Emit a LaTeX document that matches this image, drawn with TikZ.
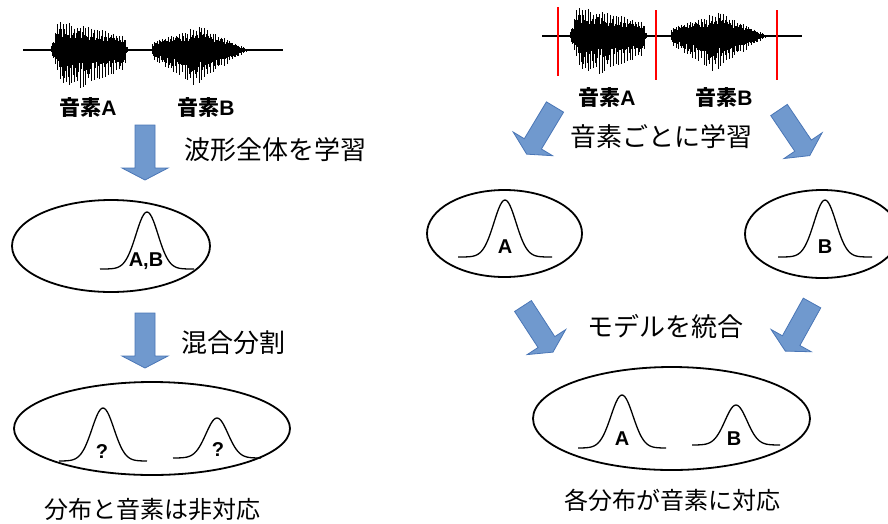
\documentclass[tikz,border=0pt]{standalone}
\usepackage{fontspec}
\newfontfamily\jp{Noto Sans CJK JP}
\newfontfamily\lat{Liberation Sans}
\definecolor{arrfill}{RGB}{112,153,206}
\definecolor{arrdraw}{RGB}{74,118,182}
\tikzset{
  blockarr/.style={fill=arrfill, draw=arrdraw, line width=0.8pt, line join=miter},
  pics/blockarrow/.style={code={\path[blockarr] (0,-10)--(43,-10)--(43,-23)--(55,0)--(43,23)--(43,10)--(0,10)--cycle;}},
  ell/.style={draw=black, line width=1.8pt},
  bellline/.style={draw=black, line width=1.3pt},
  jpbig/.style={inner sep=0pt, font=\jp\fontsize{26}{30}\selectfont},
  jpmid/.style={inner sep=0pt, font=\jp\fontsize{24}{28}\selectfont},
  wavelabel/.style={inner sep=0pt, font=\fontsize{21}{24}\selectfont\bfseries},
  curvelabel/.style={inner sep=0pt, font=\lat\bfseries\fontsize{20}{22}\selectfont},
  segline/.style={draw=red, line width=1.5pt}
}
\newcommand\bellcurve[4]{\draw[bellline] plot[domain=-#4:#4,samples=61,smooth] ({#1+\x},{#2-#3*exp(-0.5*(\x/11)^2)});}
\newcommand\speechwave{%
  \pgfmathsetseed{42}%
  \draw[line width=1.2pt] (0,0) -- (260,0);
  \foreach \u [count=\i] in {0,0.7,...,77}{%
    \pgfmathsetmacro\ft{mod(\i,4)==0 ? 0.8+0.2*rnd : 0.4+0.35*rnd}%
    \pgfmathsetmacro\fb{mod(\i,4)==0 ? 0.75+0.25*rnd : 0.3+0.4*rnd}%
    \pgfmathsetmacro\tp{28*min(1,\u/7)*(1-0.45*max(0,\u-15)/62)*min(1,(78-\u)/4)*\ft}%
    \pgfmathsetmacro\bt{41*min(1,\u/12)*(1-0.5*max(0,\u-22)/55)*min(1,(78-\u)/4)*\fb}%
    \draw[line width=0.8pt] (27+\u,-\tp) -- (27+\u,\bt);
  }
  \foreach \u [count=\i] in {0,0.7,...,96}{%
    \pgfmathsetmacro\ft{mod(\i,4)==0 ? 0.8+0.2*rnd : 0.45+0.35*rnd}%
    \pgfmathsetmacro\fb{mod(\i,4)==0 ? 0.75+0.25*rnd : 0.35+0.4*rnd}%
    \pgfmathsetmacro\tp{(\u<48 ? (9+15*\u/48) : (24*(97-\u)/49))*\ft}%
    \pgfmathsetmacro\bt{(\u<43 ? (9+27*\u/43) : (36*(97-\u)/54))*\fb}%
    \draw[line width=0.8pt] (129+\u,-\tp) -- (129+\u,\bt);
  }
}
\begin{document}
\begin{tikzpicture}[x=1pt,y=-1pt]
\useasboundingbox (0,0) rectangle (888,523);
\clip (0,0) rectangle (888,523);
% ---------- left column ----------
\begin{scope}[shift={(23,50)}]\speechwave\end{scope}
\node[wavelabel] (lA) at (88,107) {{\jp 音素}{\lat A}};
\node[wavelabel] (lB) at (206,107) {{\jp 音素}{\lat B}};
\path (145,125) pic[rotate=-90] {blockarrow};
\node[jpbig] (t1) at (275,150) {波形全体を学習};
\draw[ell] (111,246) ellipse [x radius=99, y radius=46];
\bellcurve{147}{269}{57}{47}
\node[curvelabel] (ab) at (146,261) {A,B};
\path (145,313) pic[rotate=-90] {blockarrow};
\node[jpbig] (t2) at (233,343) {混合分割};
\draw[ell] (152,428.5) ellipse [x radius=138, y radius=46.5];
\bellcurve{103}{461}{53}{44}
\bellcurve{217}{458}{40}{44}
\node[curvelabel] (q1) at (102,452) {?};
\node[curvelabel] (q2) at (218,450) {?};
\node[jpmid] (t5) at (152,509) {分布と音素は非対応};
% ---------- right column ----------
\begin{scope}[shift={(542,36)}]\speechwave\end{scope}
\draw[segline] (558,7) -- (558,76);
\draw[segline] (656,10) -- (656,80);
\draw[segline] (777,10) -- (777,80);
\node[wavelabel] (rA) at (607,97) {{\jp 音素}{\lat A}};
\node[wavelabel] (rB) at (724,97) {{\jp 音素}{\lat B}};
\path (555,107) pic[rotate=-121] {blockarrow};
\path (779,110) pic[rotate=-56] {blockarrow};
\node[jpbig] (t3) at (661,137) {音素ごとに学習};
\draw[ell] (504.5,233.5) ellipse [x radius=77.5, y radius=43.5];
\bellcurve{505}{257}{57}{47}
\node[curvelabel] (la) at (505,247) {A};
\draw[ell] (822,234) ellipse [x radius=77, y radius=44];
\bellcurve{825}{257}{57}{47}
\node[curvelabel] (lb) at (825,247) {B};
\path (523,306) pic[rotate=-57] {blockarrow};
\path (812,303) pic[rotate=-119] {blockarrow};
\node[jpbig] (t4) at (665,327) {モデルを統合};
\draw[ell] (671.5,418.5) ellipse [x radius=138.5, y radius=51.5];
\bellcurve{622}{448}{53}{44}
\bellcurve{736}{445}{40}{44}
\node[curvelabel] (ma) at (622,439) {A};
\node[curvelabel] (mb) at (734,439) {B};
\node[jpmid] (t6) at (672,500) {各分布が音素に対応};
\end{tikzpicture}
\end{document}
